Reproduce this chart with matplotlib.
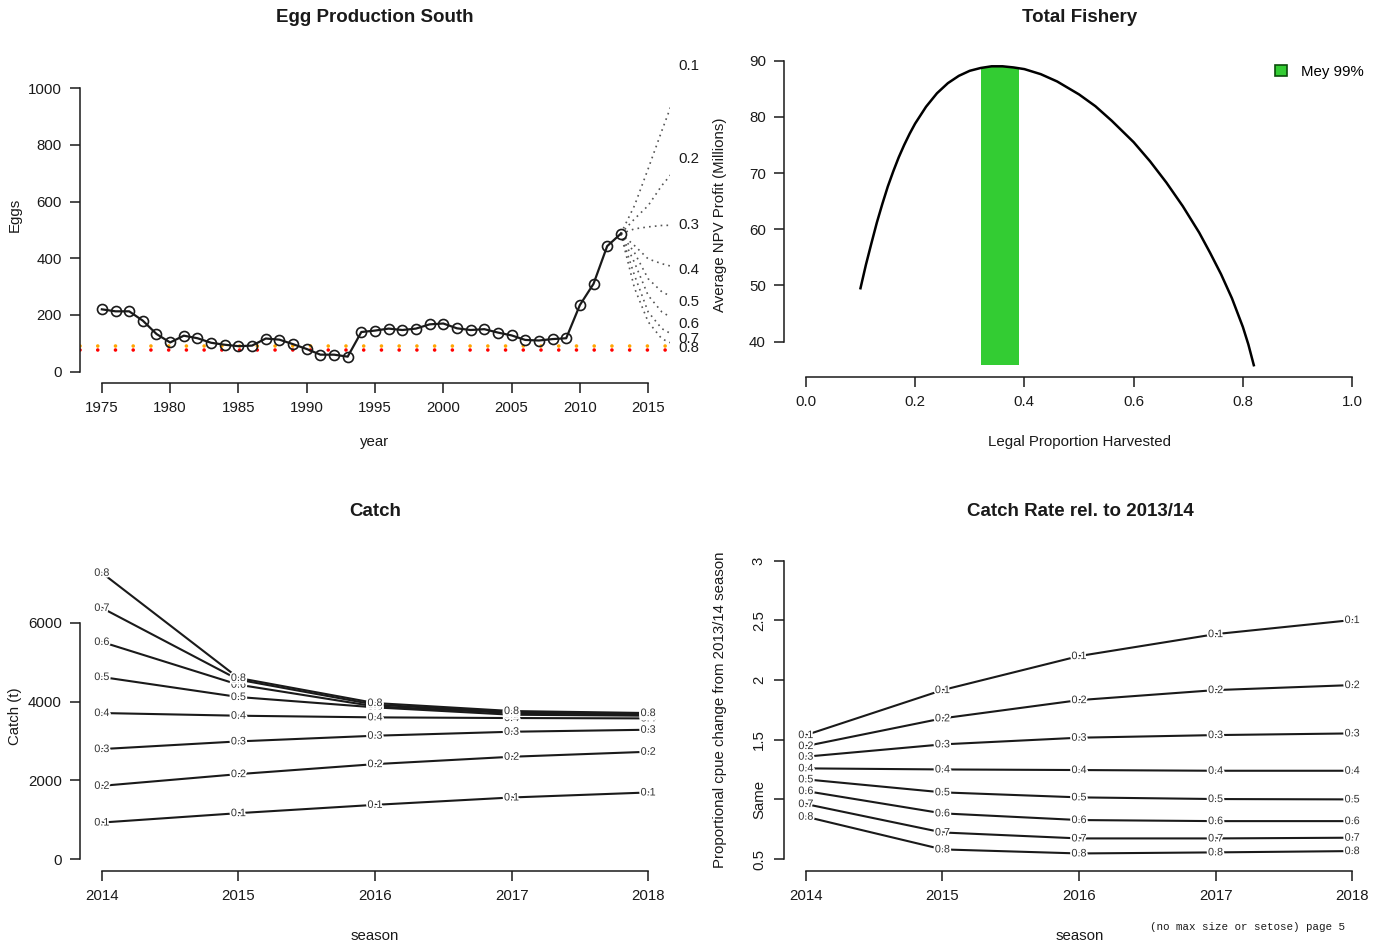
import matplotlib
matplotlib.use("Agg")
import matplotlib.pyplot as plt
import matplotlib.patheffects as pe
from matplotlib.patches import Patch

plt.rcParams["font.family"] = ["Liberation Sans", "DejaVu Sans"]

W, H = 1389, 948

# ---- Egg production south ----
egg_years = list(range(1975, 2014))
egg_values = [220, 213, 213, 180, 133, 103, 127, 118, 102, 95,
              90, 92, 117, 113, 97, 80, 60, 60, 53, 140,
              145, 152, 147, 152, 167, 170, 153, 147, 150, 138,
              128, 112, 110, 115, 118, 235, 310, 443, 487]
proj_years = [2013, 2014, 2015, 2016, 2017, 2018]
proj_rates = ["0.1", "0.2", "0.3", "0.4", "0.5", "0.6", "0.7", "0.8"]
proj_values = [
    [487, 586, 716, 850, 980, 1079],
    [487, 539, 586, 657, 715, 751],
    [487, 504, 511, 516, 517, 518],
    [487, 445, 398, 381, 368, 360],
    [487, 420, 328, 282, 258, 247],
    [487, 385, 269, 211, 182, 169],
    [487, 340, 211, 152, 125, 116],
    [487, 295, 176, 116, 94, 85],
]
ref_red = 75
ref_orange = 92

# ---- Total fishery NPV ----
harvest_prop = [0.10, 0.11, 0.12, 0.13, 0.14, 0.15, 0.16, 0.17, 0.18, 0.19,
                0.20, 0.22, 0.24, 0.26, 0.28, 0.30, 0.32, 0.34, 0.36, 0.38,
                0.40, 0.43, 0.46, 0.50, 0.53, 0.56, 0.60, 0.63, 0.66, 0.69,
                0.72, 0.74, 0.76, 0.78, 0.80, 0.81, 0.82]
npv_profit = [49.5, 53.7, 57.5, 61.2, 64.5, 67.6, 70.3, 72.8, 75.0, 77.0,
              78.8, 81.8, 84.2, 86.0, 87.3, 88.2, 88.7, 89.0, 89.0, 88.8,
              88.5, 87.6, 86.3, 84.0, 81.9, 79.3, 75.5, 72.1, 68.3, 64.1,
              59.4, 55.8, 52.0, 47.7, 42.6, 39.5, 35.8]
mey_lo, mey_hi = 0.32, 0.39
mey_bottom, mey_top = 35.9, 88.9

# ---- Catch and catch rate projections ----
seasons = [2014, 2015, 2016, 2017, 2018]
rates = ["0.1", "0.2", "0.3", "0.4", "0.5", "0.6", "0.7", "0.8"]
catch = [
    [932, 1170, 1381, 1568, 1695],
    [1864, 2161, 2415, 2602, 2729],
    [2797, 2992, 3136, 3237, 3288],
    [3712, 3644, 3602, 3585, 3576],
    [4627, 4119, 3856, 3669, 3644],
    [5517, 4432, 3881, 3712, 3669],
    [6381, 4559, 3924, 3737, 3695],
    [7271, 4602, 3966, 3763, 3712],
]
cpue_rel = [
    [1.539, 1.916, 2.201, 2.385, 2.503],
    [1.447, 1.679, 1.832, 1.916, 1.958],
    [1.358, 1.461, 1.517, 1.539, 1.553],
    [1.260, 1.251, 1.246, 1.240, 1.240],
    [1.168, 1.059, 1.017, 1.003, 1.000],
    [1.070, 0.883, 0.827, 0.818, 0.818],
    [0.961, 0.723, 0.673, 0.673, 0.679],
    [0.855, 0.581, 0.547, 0.556, 0.567],
]
cpue_ticks = [0.5, 1.0, 1.5, 2.0, 2.5, 3.0]
cpue_ticklabels = ["0.5", "Same", "1.5", "2", "2.5", "3"]

INK = "#1a1a1a"
TICK_FS = 10.8
LAB_FS = 10.8
TITLE_FS = 13.5


def px_axes(fig, x0, y0, x1, y1):
    return fig.add_axes([x0 / W, 1 - y1 / H, (x1 - x0) / W, (y1 - y0) / H])


def ftxt(fig, x, y, s, **kw):
    kw.setdefault("ha", "center")
    kw.setdefault("va", "center")
    kw.setdefault("color", INK)
    return fig.text(x / W, 1 - y / H, s, **kw)


def r_style(ax, xb, yb):
    for s in ("top", "right"):
        ax.spines[s].set_visible(False)
    ax.spines["left"].set_bounds(*yb)
    ax.spines["bottom"].set_bounds(*xb)
    for s in ("left", "bottom"):
        ax.spines[s].set_linewidth(1.1)
        ax.spines[s].set_color(INK)
    ax.tick_params(direction="out", length=7, width=1.1, colors=INK,
                   labelsize=TICK_FS, pad=6)
    ax.patch.set_visible(False)


fig = plt.figure(figsize=(W / 100, H / 100), dpi=100)

# ------ Egg Production South ------
ax1 = px_axes(fig, 80, 77, 670, 383)
ax1.set_xlim(1973.4, 2016.6)
ax1.set_ylim(-40, 1040)
dots = (0, (0.01, 4.9))
ax1.axhline(ref_orange, color="orange", lw=2.6, ls=dots, dash_capstyle="round")
ax1.axhline(ref_red, color="red", lw=2.6, ls=dots, dash_capstyle="round")
for lbl, vals in zip(proj_rates, proj_values):
    ax1.plot(proj_years, vals, color="#555555", lw=1.2, ls=(0, (1, 2.5)))
    ax1.text(proj_years[-1], vals[-1], lbl, ha="center", va="center",
             fontsize=LAB_FS, color=INK, clip_on=False)
ax1.plot(egg_years, egg_values, color=INK, lw=1.6, marker="o", ms=7.2,
         mfc="none", mec=INK, mew=1.2)
ax1.set_xticks(range(1975, 2016, 5))
ax1.set_yticks(range(0, 1001, 200))
r_style(ax1, (1975, 2015), (0, 1000))
ftxt(fig, 375, 17, "Egg Production South", fontsize=TITLE_FS, fontweight="bold")
ftxt(fig, 15, 215, "Eggs", rotation=90, fontsize=LAB_FS)
ftxt(fig, 375, 442, "year", fontsize=LAB_FS)

# ------ Total Fishery ------
ax2 = px_axes(fig, 784, 54.5, 1374, 377)
ax2.set_xlim(-0.04, 1.04)
ax2.set_ylim(33.7, 91.1)
ax2.fill_between([mey_lo, mey_hi], mey_bottom, mey_top, color="#33cc33", lw=0)
ax2.plot(harvest_prop, npv_profit, color="black", lw=1.8)
ax2.set_xticks([0.0, 0.2, 0.4, 0.6, 0.8, 1.0])
ax2.set_xticklabels(["0.0", "0.2", "0.4", "0.6", "0.8", "1.0"])
ax2.set_yticks(range(40, 91, 10))
r_style(ax2, (0, 1), (40, 90))
ax2.legend(handles=[Patch(facecolor="#33cc33", edgecolor="#0b4d0b", lw=1.2,
                          label="Mey 99%")],
           loc="upper right", bbox_to_anchor=(1.005, 1.01), frameon=False,
           fontsize=LAB_FS, handlelength=0.8, handleheight=0.8,
           handletextpad=0.9)
ftxt(fig, 1080, 17, "Total Fishery", fontsize=TITLE_FS, fontweight="bold")
ftxt(fig, 720, 215, "Average NPV Profit (Millions)", rotation=90, fontsize=LAB_FS)
ftxt(fig, 1080, 442, "Legal Proportion Harvested", fontsize=LAB_FS)

halo = [pe.withStroke(linewidth=2.5, foreground="white")]

# ------ Catch ------
ax3 = px_axes(fig, 80, 561.4, 670, 870.7)
ax3.set_xlim(2013.84, 2018.16)
ax3.set_ylim(-291, 7562)
for lbl, vals in zip(rates, catch):
    ax3.plot(seasons, vals, color=INK, lw=1.5)
    for x, y in zip(seasons, vals):
        ax3.text(x, y, lbl, ha="center", va="center", fontsize=7.8,
                 color="#333333", path_effects=halo)
ax3.set_xticks(seasons)
ax3.set_yticks([0, 2000, 4000, 6000])
r_style(ax3, (2014, 2018), (0, 6000))
ftxt(fig, 375, 511, "Catch", fontsize=TITLE_FS, fontweight="bold")
ftxt(fig, 15, 716, "Catch (t)", rotation=90, fontsize=LAB_FS)
ftxt(fig, 375, 936, "season", fontsize=LAB_FS)

# ------ Catch Rate rel. to 2013/14 ------
ax4 = px_axes(fig, 784, 548.8, 1374, 871)
ax4.set_xlim(2013.84, 2018.16)
ax4.set_ylim(0.4, 3.1)
for lbl, vals in zip(rates, cpue_rel):
    ax4.plot(seasons, vals, color=INK, lw=1.5)
    for x, y in zip(seasons, vals):
        ax4.text(x, y, lbl, ha="center", va="center", fontsize=7.8,
                 color="#333333", path_effects=halo)
ax4.set_xticks(seasons)
ax4.set_yticks(cpue_ticks)
ax4.set_yticklabels(cpue_ticklabels, rotation=90, va="center")
r_style(ax4, (2014, 2018), (0.5, 3.0))
ftxt(fig, 1080, 511, "Catch Rate rel. to 2013/14", fontsize=TITLE_FS,
     fontweight="bold")
ftxt(fig, 720, 710, "Proportional cpue change from 2013/14 season",
     rotation=90, fontsize=LAB_FS)
ftxt(fig, 1080, 936, "season", fontsize=LAB_FS)

ftxt(fig, 1345, 927, "(no max size or setose) page 5", ha="right",
     fontsize=7.8, family="Liberation Mono")

fig.savefig("out.png", dpi=100)
